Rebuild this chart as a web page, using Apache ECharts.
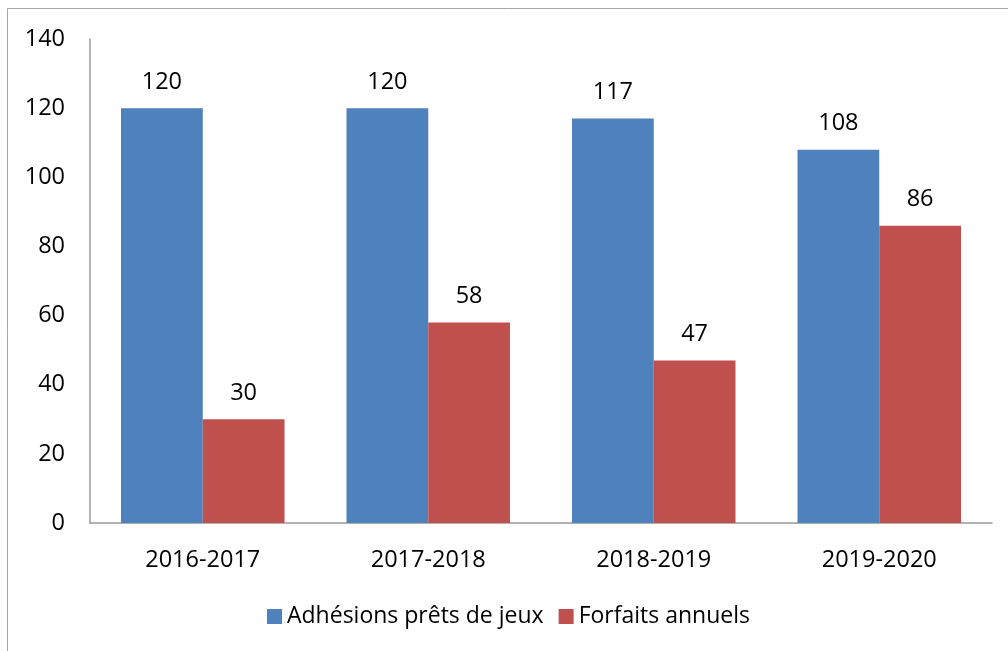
<!DOCTYPE html>
<html>
<head>
<meta charset="utf-8">
<script src="https://cdn.jsdelivr.net/npm/echarts@6/dist/echarts.min.js"></script>
<style>html,body{margin:0;padding:0;background:#fff;}#c{width:1008px;height:651px;}</style>
</head>
<body>
<div id="c"></div>
<script>
var categories = ['2016-2017', '2017-2018', '2018-2019', '2019-2020'];
var seriesNames = ['Adhésions prêts de jeux', 'Forfaits annuels'];
var adhesions = [120, 120, 117, 108];
var forfaits = [30, 58, 47, 86];
var yTicks = [0, 20, 40, 60, 80, 100, 120, 140];

var FONT = 'Open Sans';
var FS = 23.5;
var chart = echarts.init(document.getElementById('c'), null, {renderer: 'canvas'});
chart.setOption({
  animation: false,
  backgroundColor: '#fff',
  textStyle: {fontFamily: FONT},
  graphic: [{
    type: 'rect',
    shape: {x: 7.5, y: 8.5, width: 1100, height: 700},
    style: {fill: 'none', stroke: '#a6a6a6', lineWidth: 1},
    silent: true
  }],
  grid: {left: 90, right: 16, top: 39, bottom: 128, containLabel: false},
  legend: {
    data: seriesNames,
    left: 262,
    top: 600,
    itemWidth: 15,
    itemHeight: 15,
    itemGap: 15,
    icon: 'rect',
    textStyle: {fontFamily: FONT, fontSize: 23, color: '#000'}
  },
  xAxis: {
    type: 'category',
    data: categories,
    axisLine: {lineStyle: {color: '#999', width: 1.5}},
    axisTick: {show: false},
    axisLabel: {fontFamily: FONT, fontSize: FS, color: '#000', margin: 25}
  },
  yAxis: {
    type: 'value',
    min: yTicks[0],
    max: yTicks[yTicks.length - 1],
    interval: 20,
    axisLine: {show: true, lineStyle: {color: '#999', width: 1.5}},
    axisTick: {show: false},
    splitLine: {show: false},
    axisLabel: {fontFamily: FONT, fontSize: FS, color: '#000', margin: 25}
  },
  series: [{
    name: seriesNames[0],
    type: 'bar',
    data: adhesions,
    barGap: '0%',
    barCategoryGap: '27.5%',
    itemStyle: {color: '#4F81BD'},
    label: {show: true, position: 'top', distance: 14, fontFamily: FONT, fontSize: FS, color: '#000'}
  }, {
    name: seriesNames[1],
    type: 'bar',
    data: forfaits,
    itemStyle: {color: '#C0504D'},
    label: {show: true, position: 'top', distance: 14, fontFamily: FONT, fontSize: FS, color: '#000'}
  }]
});
</script>
</body>
</html>
